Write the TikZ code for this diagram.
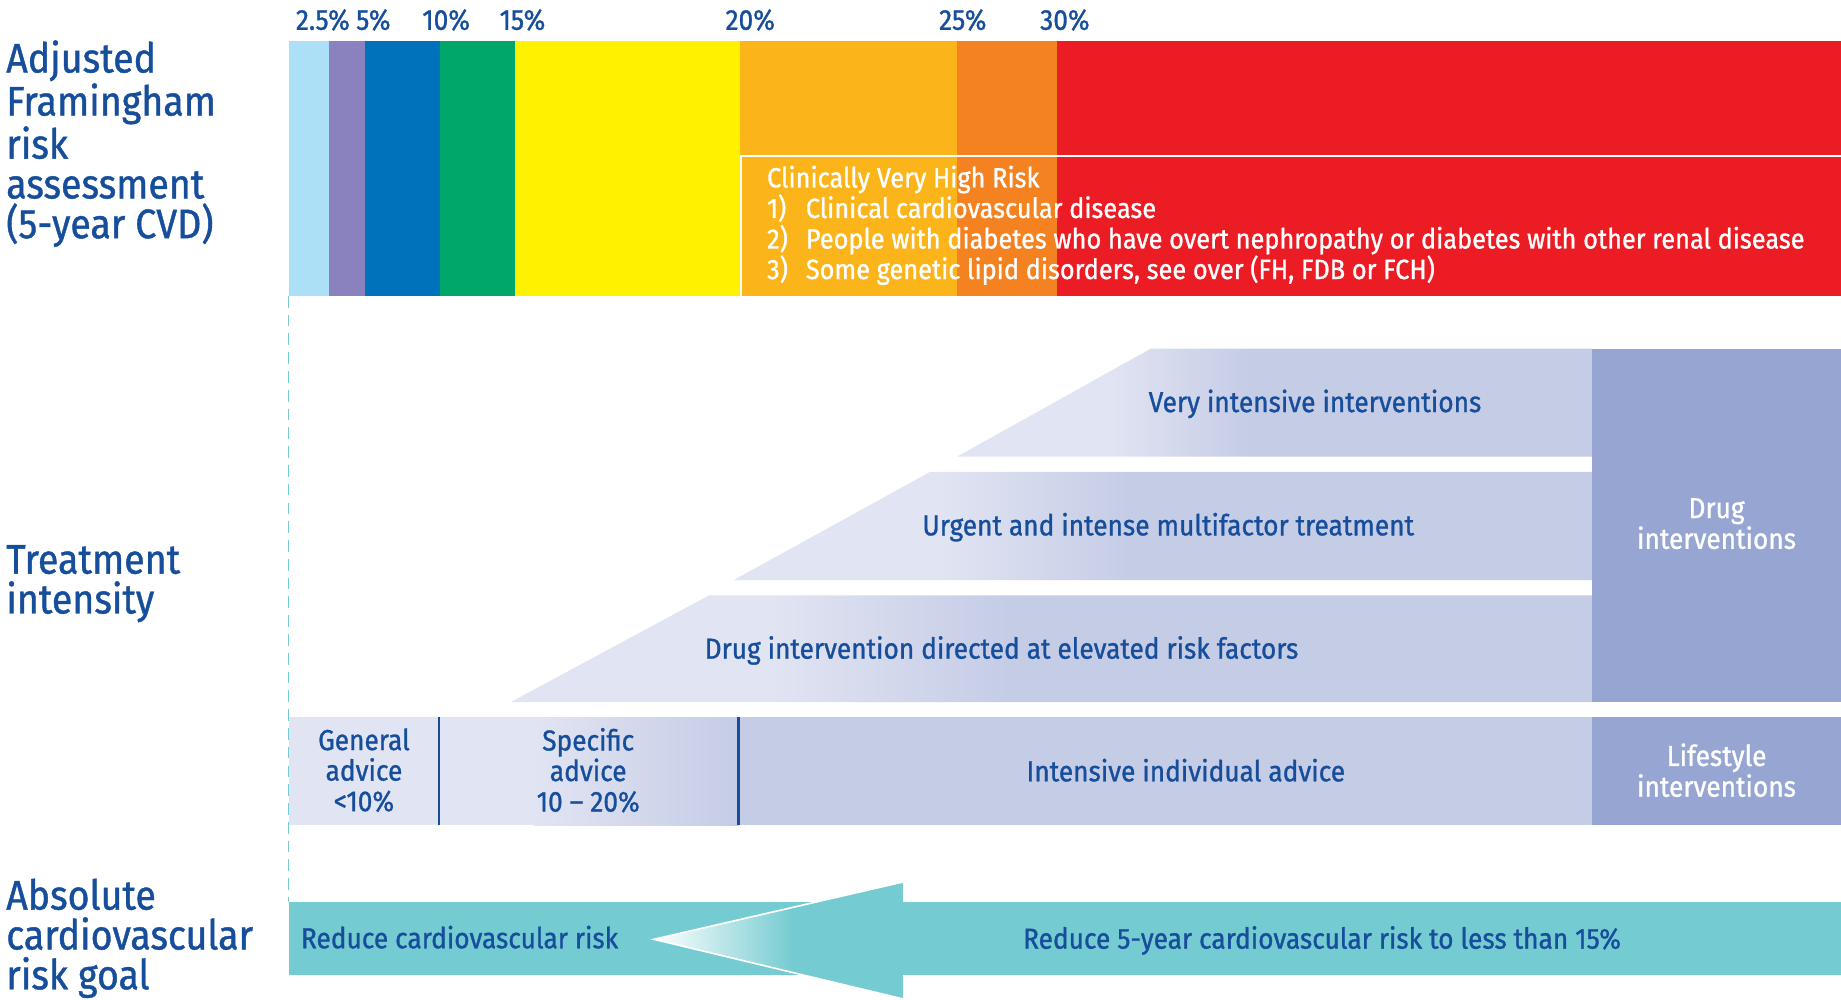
\documentclass[tikz,border=0pt]{standalone}
\usepackage{fontspec}
\setmainfont{Fira Sans}[FakeStretch=0.91, FakeBold=1]
\usetikzlibrary{positioning}

\definecolor{txtblue}{RGB}{22,78,155}
\definecolor{seglblue}{RGB}{172,224,247}
\definecolor{segpurple}{RGB}{137,130,190}
\definecolor{segblue}{RGB}{0,113,187}
\definecolor{seggreen}{RGB}{0,167,107}
\definecolor{segyellow}{RGB}{255,241,0}
\definecolor{segamber}{RGB}{251,180,25}
\definecolor{segorange}{RGB}{244,130,32}
\definecolor{segred}{RGB}{236,28,36}
\definecolor{rowlight}{RGB}{225,228,242}
\definecolor{rowdark}{RGB}{197,204,230}
\definecolor{sidebox}{RGB}{151,165,210}
\definecolor{goalteal}{RGB}{116,203,209}

\pgfdeclarehorizontalshading{rowshade}{100bp}{color(0bp)=(rowlight); color(37bp)=(rowlight); color(48bp)=(rowdark); color(100bp)=(rowdark)}
\pgfdeclarehorizontalshading{headshade}{100bp}{color(0bp)=(white); color(25bp)=(white); color(53bp)=(goalteal); color(100bp)=(goalteal)}

\tikzset{
  hd/.style={anchor=north west, inner sep=0pt, align=left, text=txtblue, font=\fontsize{20}{19.3}\selectfont},
  pct/.style={inner sep=0pt, text=txtblue, font=\fontsize{14}{14}\selectfont},
  risktxt/.style={anchor=mid west, inner sep=0pt, text=white, font=\fontsize{13.5}{14}\selectfont},
  rowtxt/.style={inner sep=0pt, text=txtblue, align=center, font=\fontsize{14}{14.8}\selectfont},
  sidetxt/.style={inner sep=0pt, text=white, align=center, font=\fontsize{14}{13.6}\selectfont},
  divider/.style={txtblue, line width=1.2pt}
}

\begin{document}
\begin{tikzpicture}[x=0.2mm, y=-0.2mm]
    \useasboundingbox (0,0) rectangle (1568,851);

    % Headings
    \node[hd] (hrisk) at (5,34) {Adjusted\\Framingham\\risk\\assessment\\(5-year CVD)};
    \node[hd] (htreat) at (5,464) {Treatment\\intensity};
    \node[hd] (hgoal) at (5,748) {Absolute\\cardiovascular\\risk goal};

    % Risk bar
    \fill[seglblue] (246,35) rectangle (280,252);
    \fill[segpurple] (280,35) rectangle (311,252);
    \fill[segblue] (311,35) rectangle (375,252);
    \fill[seggreen] (375,35) rectangle (439,252);
    \fill[segyellow] (439,35) rectangle (630,252);
    \fill[segamber] (630,35) rectangle (815,252);
    \fill[segorange] (815,35) rectangle (900,252);
    \fill[segred] (900,35) rectangle (1568,252);
    \coordinate (barsw) at (246,252);

    % Percent labels
    \node[pct] (p2) at (275,17) {2.5\%};
    \node[pct] (p5) at (318,17) {5\%};
    \node[pct] (p10) at (380,17) {10\%};
    \node[pct] (p15) at (445,17) {15\%};
    \node[pct] (p20) at (639,17) {20\%};
    \node[pct] (p25) at (820,17) {25\%};
    \node[pct] (p30) at (907,17) {30\%};

    % Clinically very high risk box
    \draw[white, line width=0.8pt] (1568,133) -- (631,133) -- (631,252);
    \node[risktxt] (cvh) at (653,155) {Clinically Very High Risk};
    \node[risktxt] (n1) at (653,181) {1)};
    \node[risktxt] (cvh1) at (686,181) {Clinical cardiovascular disease};
    \node[risktxt] (n2) at (653,207) {2)};
    \node[risktxt] (cvh2) at (686,207) {People with diabetes who have overt nephropathy or diabetes with other renal disease};
    \node[risktxt] (n3) at (653,233) {3)};
    \node[risktxt] (cvh3) at (686,233) {Some genetic lipid disorders, see over (FH, FDB or FCH)};

    % Treatment rows
    \shade[shading=rowshade] (815,389) -- (980,297) -- (1356,297) -- (1356,389) -- cycle;
    \shade[shading=rowshade] (625,494) -- (792,402) -- (1356,402) -- (1356,494) -- cycle;
    \shade[shading=rowshade] (435,598) -- (604,507) -- (1356,507) -- (1356,598) -- cycle;
    \fill[rowlight] (246,611) rectangle (455,703);
    \shade[left color=rowlight, right color=rowdark] (455,611) rectangle (629,703);
    \fill[rowdark] (629,611) rectangle (1356,703);
    \fill[sidebox] (1356,297) rectangle (1568,598);
    \fill[sidebox] (1356,611) rectangle (1568,703);

    \node[rowtxt] (vii) at (1120,344) {Very intensive interventions};
    \node[rowtxt] (uim) at (995,449) {Urgent and intense multifactor treatment};
    \node[rowtxt] (die) at (853,554) {Drug intervention directed at elevated risk factors};
    \node[rowtxt] (gen) at (310,656) {General\\advice\\<10\%};
    \node[rowtxt] (spec) at (501,656) {Specific\\advice\\10 -- 20\%};
    \node[rowtxt] (iia) at (1010,656) {Intensive individual advice};
    \node[sidetxt] (drug) at (1462,446) {Drug\\interventions};
    \node[sidetxt] (life) at (1462,656) {Lifestyle\\interventions};

    \coordinate (d1t) at (374,611);
    \coordinate (d1b) at (374,703);
    \coordinate (d2t) at (629,611);
    \coordinate (d2b) at (629,703);
    \draw[divider] (d1t) -- (d1b);
    \draw[divider] (d2t) -- (d2b);

    % Goal arrow
    \coordinate (goalnw) at (246,768);
    \draw[goalteal, line width=0.6pt, dash pattern=on 2mm off 1.2mm] (barsw) -- (goalnw);
    \fill[goalteal] (246,768) rectangle (770,830);
    \shade[shading=headshade, draw=white, line width=0.8pt] (557,800) -- (770,751) -- (770,851) -- cycle;
    \fill[goalteal] (769,768) rectangle (1568,830);

    \node[rowtxt, anchor=mid west] (rcr) at (256,803) {Reduce cardiovascular risk};
    \node[rowtxt] (r15) at (1126,801) {Reduce 5-year cardiovascular risk to less than 15\%};
\end{tikzpicture}
\end{document}
